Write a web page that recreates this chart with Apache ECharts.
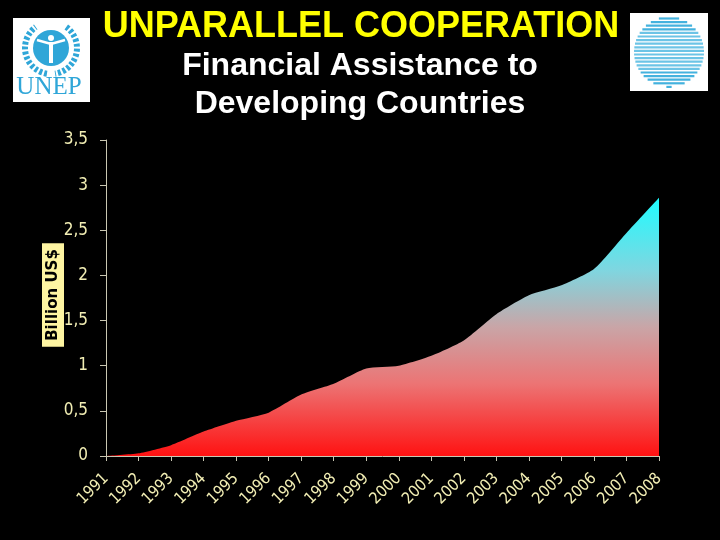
<!DOCTYPE html>
<html>
<head>
<meta charset="utf-8">
<script src="https://cdn.jsdelivr.net/npm/echarts@6/dist/echarts.min.js"></script>
<style>
  html, body { margin: 0; padding: 0; background: #000; }
  #chart { width: 720px; height: 540px; }
</style>
</head>
<body>
<div id="chart"></div>
<script>
// data
var years = ['1991', '1992', '1993', '1994', '1995', '1996', '1997', '1998', '1999',
  '2000', '2001', '2002', '2003', '2004', '2005', '2006', '2007', '2008'];
var assistance = [0, 0.03, 0.12, 0.27, 0.39, 0.48, 0.68, 0.8, 0.97,
  1.0, 1.11, 1.28, 1.57, 1.78, 1.89, 2.07, 2.47, 2.86];
var yMin = 0, yMax = 3.5, yStep = 0.5;

var labelColor = '#f2eeb4';
var axisColor = '#c9c7b2';
var unepBlue = '#2fa6d8';

// striped globe logo, top right
function globeStripes(cx, cy, r) {
  var out = [];
  for (var dy = -r + 1.5; dy < r; dy += 3.6) {
    var half = Math.sqrt(r * r - dy * dy);
    var light = Math.abs(dy) < r * 0.55;
    out.push({
      type: 'line',
      shape: { x1: cx - half, y1: cy + dy, x2: cx + half, y2: cy + dy },
      style: { stroke: light ? '#6cc4e6' : '#44b2de', lineWidth: 2.2 },
      silent: true
    });
  }
  return out;
}

var chart = echarts.init(document.getElementById('chart'));

var ucx = 51, ucy = 48;
var graphics = [
  { type: 'text', x: 361, y: 27,
    style: { text: 'UNPARALLEL COOPERATION', fill: '#ffff00', fontSize: 36, fontWeight: 'bold',
      fontFamily: 'Liberation Sans, Arial', align: 'center', verticalAlign: 'middle' } },
  { type: 'text', x: 360, y: 66,
    style: { text: 'Financial Assistance to', fill: '#ffffff', fontSize: 32, fontWeight: 'bold',
      fontFamily: 'Liberation Sans, Arial', align: 'center', verticalAlign: 'middle' } },
  { type: 'text', x: 360, y: 104,
    style: { text: 'Developing Countries', fill: '#ffffff', fontSize: 32, fontWeight: 'bold',
      fontFamily: 'Liberation Sans, Arial', align: 'center', verticalAlign: 'middle' } },
  // axis name box
  { type: 'text', x: 53, y: 295, rotation: Math.PI / 2,
    style: { text: 'Billion US$', fill: '#000', fontSize: 15, fontWeight: 'bold',
      fontFamily: 'DejaVu Sans', align: 'center', verticalAlign: 'middle',
      backgroundColor: '#fef5a2', padding: [4, 6, 3, 6] } },
  // UNEP logo
  { type: 'rect', shape: { x: 13, y: 18, width: 77, height: 84 }, style: { fill: '#fff' } },
  { type: 'arc', shape: { cx: ucx, cy: ucy, r: 26, startAngle: Math.PI * 0.55, endAngle: Math.PI * 1.3 },
    style: { stroke: unepBlue, lineWidth: 6, lineDash: [3, 2], fill: null } },
  { type: 'arc', shape: { cx: ucx, cy: ucy, r: 26, startAngle: -Math.PI * 0.3, endAngle: Math.PI * 0.45 },
    style: { stroke: unepBlue, lineWidth: 6, lineDash: [3, 2], fill: null } },
  { type: 'circle', shape: { cx: ucx, cy: ucy, r: 18 }, style: { fill: unepBlue } },
  { type: 'circle', shape: { cx: ucx, cy: ucy - 10, r: 3 }, style: { fill: '#fff' } },
  { type: 'polyline', shape: { points: [[ucx - 14, ucy - 8], [ucx, ucy - 4], [ucx + 14, ucy - 8]] },
    style: { stroke: '#fff', lineWidth: 2.5, fill: null } },
  { type: 'line', shape: { x1: ucx, y1: ucy - 6, x2: ucx, y2: ucy + 15 },
    style: { stroke: '#fff', lineWidth: 4 } },
  { type: 'text', x: 49, y: 87,
    style: { text: 'UNEP', fill: unepBlue, fontSize: 25, fontFamily: 'Liberation Serif, serif',
      align: 'center', verticalAlign: 'middle' } },
  // globe logo
  { type: 'rect', shape: { x: 630, y: 13, width: 78, height: 78 }, style: { fill: '#fff' } }
].concat(globeStripes(669, 52, 35));

chart.setOption({
  backgroundColor: '#000',
  animation: false,
  grid: { left: 106, right: 61, top: 140, bottom: 84 },
  xAxis: {
    type: 'category',
    data: years,
    boundaryGap: false,
    axisLine: { lineStyle: { color: axisColor, width: 1 } },
    axisTick: { show: true, interval: 0, length: 5, lineStyle: { color: axisColor } },
    axisLabel: {
      interval: 0, rotate: 45, margin: 20, color: labelColor, fontSize: 16,
      fontFamily: 'DejaVu Sans Condensed, DejaVu Sans'
    },
    splitLine: { show: false }
  },
  yAxis: {
    type: 'value',
    min: yMin,
    max: yMax,
    interval: yStep,
    axisLine: { show: true, lineStyle: { color: axisColor, width: 1 } },
    axisTick: { show: true, length: 6, lineStyle: { color: axisColor } },
    axisLabel: {
      margin: 18, color: labelColor, fontSize: 17,
      fontFamily: 'DejaVu Sans Condensed, DejaVu Sans',
      formatter: function (v) { return String(v).replace('.', ','); }
    },
    splitLine: { show: false }
  },
  series: [
    {
      name: 'Financial Assistance',
      type: 'line',
      data: assistance,
      smooth: 0.2,
      symbol: 'none',
      lineStyle: { width: 0 },
      areaStyle: {
        opacity: 1,
        color: new echarts.graphic.LinearGradient(0, 0, 0, 1, [
          { offset: 0, color: '#1ffcff' },
          { offset: 0.28, color: '#7fd6e0' },
          { offset: 0.5, color: '#c9a5a7' },
          { offset: 0.72, color: '#ec7474' },
          { offset: 1, color: '#ff1212' }
        ])
      }
    }
  ],
  graphic: graphics
});
</script>
</body>
</html>
